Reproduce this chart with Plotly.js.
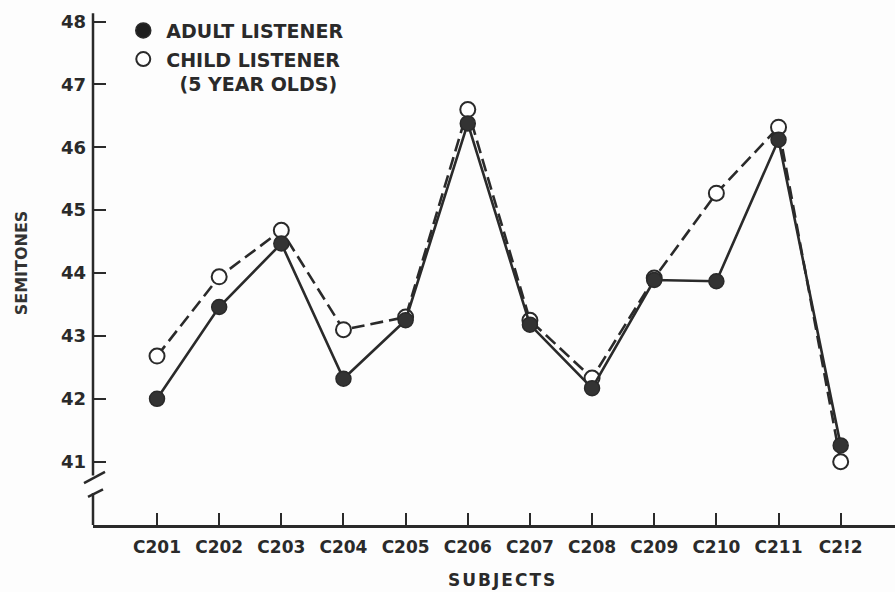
<!DOCTYPE html>
<html>
<head>
<meta charset="utf-8">
<script src="https://cdn.plot.ly/plotly-3.0.1.min.js"></script>
<style>
  html, body { margin: 0; padding: 0; background: #fdfdfd; }
  #chart { width: 895px; height: 592px; }
  #chart .annotation-text.spaced { letter-spacing: 2px; }
</style>
</head>
<body>
<div id="chart"></div>
<script>
// ---- data ----
const subjects = ["C201","C202","C203","C204","C205","C206","C207","C208","C209","C210","C211","C2!2"];
const adultListener = [42.0, 43.46, 44.47, 42.32, 43.25, 46.38, 43.18, 42.17, 43.89, 43.87, 46.12, 41.26];
const childListener = [42.68, 43.94, 44.68, 43.10, 43.30, 46.60, 43.25, 42.33, 43.92, 45.27, 46.32, 41.00];
const yTickVals = [41, 42, 43, 44, 45, 46, 47, 48];
const legendAdult = "ADULT LISTENER";
const legendChild = "CHILD LISTENER<br>&nbsp;&nbsp;(5 YEAR OLDS)";
const xTitle = "SUBJECTS";
const yTitle = "SEMITONES";

const ink = "#2a2a2a";
const fontFam = "DejaVu Sans, Liberation Sans, sans-serif";

const traces = [
  {
    x: subjects, y: childListener, type: "scatter", mode: "lines+markers",
    line: { color: ink, width: 2.6, dash: "13px,6px" },
    marker: { symbol: "circle", size: 15, color: "#ffffff", line: { color: ink, width: 2 } },
    showlegend: false, cliponaxis: false
  },
  {
    x: subjects, y: adultListener, type: "scatter", mode: "lines+markers",
    line: { color: ink, width: 2.6 },
    marker: { symbol: "circle", size: 15, color: "#333333", line: { color: ink, width: 1.5 } },
    showlegend: false, cliponaxis: false
  },
  // legend-only entries (markers only, no data)
  {
    x: [null], y: [null], type: "scatter", mode: "markers", name: legendAdult,
    legendgroup: "a",
    marker: { symbol: "circle", size: 15, color: "#1e1e1e", line: { color: ink, width: 1.5 } }
  },
  {
    x: [null], y: [null], type: "scatter", mode: "markers", name: legendChild,
    legendgroup: "c",
    marker: { symbol: "circle", size: 14, color: "#ffffff", line: { color: ink, width: 2 } }
  }
];

// axis line with break drawn as shapes (paper x, data y)
const px = v => v / 802; // pixel offset -> paper fraction
const shapes = [
  { type: "line", xref: "paper", yref: "y", x0: 0, x1: 0, y0: 48.13, y1: 40.78, line: { color: ink, width: 2.5 } },
  { type: "line", xref: "paper", yref: "y", x0: 0, x1: 0, y0: 40.50, y1: 39.99, line: { color: ink, width: 2.5 } },
  { type: "line", xref: "paper", yref: "y", x0: px(-9), x1: px(12), y0: 40.66, y1: 40.84, line: { color: ink, width: 2.5 } },
  { type: "line", xref: "paper", yref: "y", x0: px(-5), x1: px(10), y0: 40.44, y1: 40.56, line: { color: ink, width: 2.5 } }
];

const layout = {
  width: 895, height: 592,
  margin: { l: 93, r: 0, t: 10, b: 67 },
  paper_bgcolor: "#fdfdfd", plot_bgcolor: "#fdfdfd",
  font: { family: fontFam, color: ink, size: 17 },
  xaxis: {
    type: "category",
    range: [-1.03, 11.874],
    showline: true, linecolor: ink, linewidth: 2.5,
    ticks: "inside", ticklen: 12, tickwidth: 2, tickcolor: ink,
    ticklabelstandoff: 5,
    showgrid: false, zeroline: false,
    tickfont: { family: fontFam, size: 17, color: ink, weight: "bold" }
  },
  yaxis: {
    range: [39.994, 48.183],
    showline: false,
    tickvals: yTickVals,
    ticks: "inside", ticklen: 13, tickwidth: 2, tickcolor: ink,
    ticklabelstandoff: 6,
    showgrid: false, zeroline: false,
    tickfont: { family: fontFam, size: 18, color: ink, weight: "bold" }
  },
  annotations: [
    {
      text: xTitle, xref: "paper", yref: "paper", x: 0.51, y: -0.107,
      xanchor: "center", yanchor: "middle", showarrow: false,
      font: { family: fontFam, size: 17, color: ink, weight: "bold" }
    },
    {
      text: yTitle, xref: "paper", yref: "paper", x: -0.0892, y: 0.509,
      xanchor: "center", yanchor: "middle", showarrow: false, textangle: -90,
      font: { family: fontFam, size: 16, color: "#333333", weight: "bold" }
    }
  ],
  showlegend: true,
  legend: {
    x: 0.034, y: 0.997, xanchor: "left", yanchor: "top",
    bgcolor: "rgba(0,0,0,0)",
    font: { family: fontFam, size: 19, color: ink, weight: "bold" },
    tracegroupgap: 1, valign: "top", itemwidth: 36
  },
  shapes: shapes
};

Plotly.newPlot("chart", traces, layout, { displayModeBar: false, staticPlot: true }).then(() => {
  // letter spacing for the x-axis title (lettering style of the original)
  const ann = document.querySelectorAll("#chart .annotation-text");
  if (ann.length) ann[0].classList.add("spaced");
});
</script>
</body>
</html>
